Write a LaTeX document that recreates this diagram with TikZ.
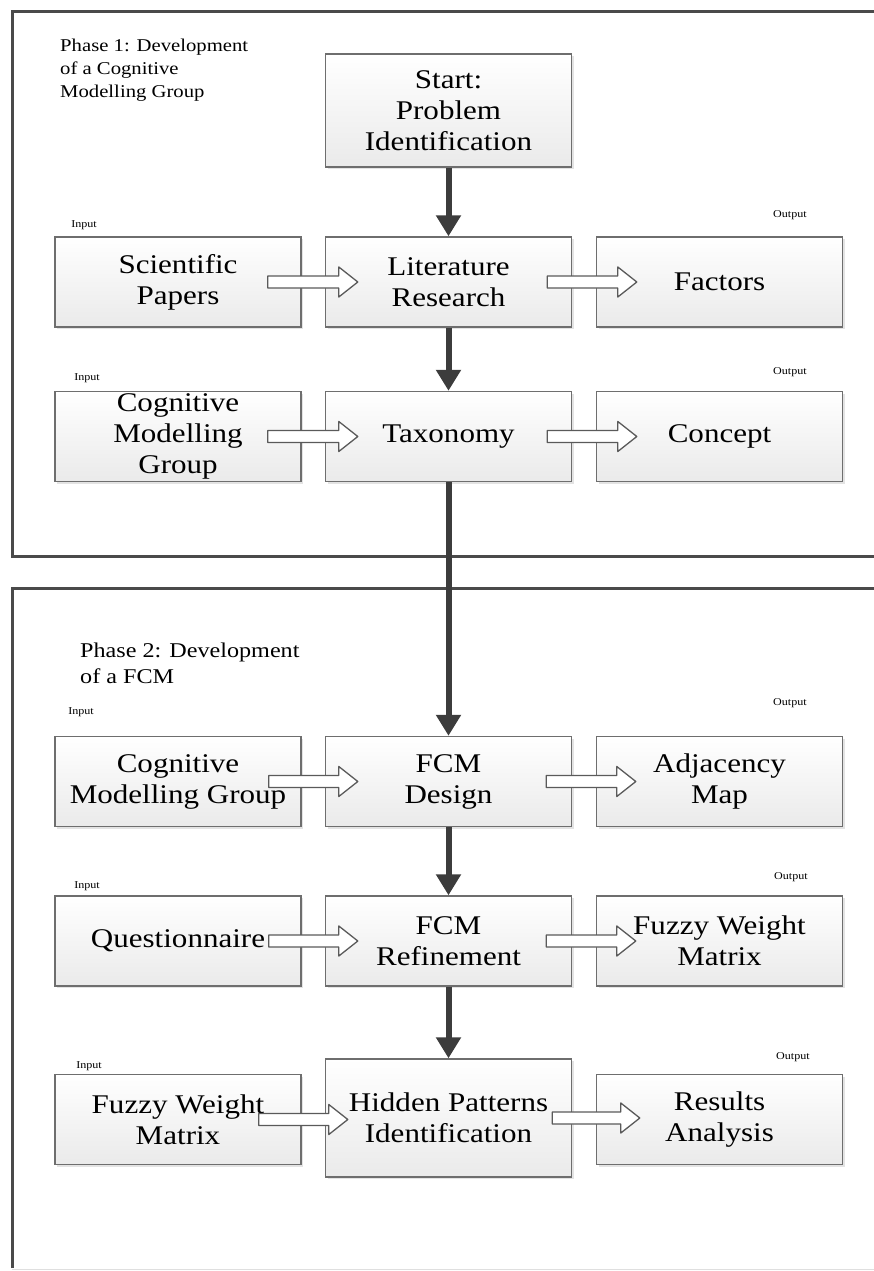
\documentclass[tikz,border=0pt]{standalone}
\usepackage{fontspec}
\setmainfont{Liberation Serif}[FakeStretch=1.15]
\usetikzlibrary{arrows.meta,calc,shadows}

\definecolor{framegray}{HTML}{4A4A4A}
\definecolor{boxline}{HTML}{6E6E6E}
\definecolor{boxbottom}{HTML}{EAEAEA}
\definecolor{flowdark}{HTML}{3C3C3C}
\definecolor{hollowline}{HTML}{5A5A5A}

\tikzset{
  frame/.style={draw=framegray, line width=3pt},
  stage/.style={draw=boxline, line width=1.4pt, top color=white, bottom color=boxbottom,
    minimum width=246pt, minimum height=90pt, inner sep=0pt, align=center,
    font=\fontsize{27}{31}\selectfont,
    drop shadow={opacity=0.22, shadow xshift=2pt, shadow yshift=-2pt}},
  phase/.style={anchor=north west, inner sep=0pt, align=left},
  tag/.style={inner sep=0pt, font=\fontsize{10.5}{12}\selectfont},
  flow/.style={draw=flowdark, line width=6pt, -{Triangle[width=24pt,length=21pt]}, shorten >=0pt},
  hollow/.style={draw=hollowline, fill=white, line width=1.3pt, line join=round}
}

% wide outlined arrow drawn from a start point to a tip point at the same height
\newcommand\hollowarrow[2]{%
  \draw[hollow] let \p1=(#1), \p2=(#2) in
    (\x1,\y1+6pt) -- (\x2-19pt,\y1+6pt) -- (\x2-19pt,\y1+15pt) -- (\x2,\y1)
    -- (\x2-19pt,\y1-15pt) -- (\x2-19pt,\y1-6pt) -- (\x1,\y1-6pt) -- cycle;}

\begin{document}
\begin{tikzpicture}[x=1pt, y=-1pt]
\useasboundingbox (0,0) rectangle (874,1271);

% phase frames
\draw[frame] (12,12) rectangle (900,556);
\draw[frame] (12,1268) -- (12,588) -- (900,588);
\draw[gray!25, line width=1pt] (12,1269) -- (874,1269);

% phase captions
\node[phase, font=\fontsize{18}{23}\selectfont] (ph1) at (60,39)
  {Phase 1: Development\\of a Cognitive\\Modelling Group};
\node[phase, font=\fontsize{21}{26}\selectfont] (ph2) at (80,643)
  {Phase 2: Development\\of a FCM};

% phase 1 stages
\node[stage, minimum height=113pt] (start) at (448.5,110.5) {Start:\\Problem\\Identification};
\node[stage] (sp)  at (178,282)   {Scientific\\Papers};
\node[stage] (lit) at (448.5,282) {Literature\\Research};
\node[stage] (fac) at (719.5,282) {Factors};
\node[stage] (cmg) at (178,436.5)   {Cognitive\\Modelling\\Group};
\node[stage] (tax) at (448.5,436.5) {Taxonomy};
\node[stage] (con) at (719.5,436.5) {Concept};

% phase 2 stages
\node[stage] (cmg2) at (178,781.5)   {Cognitive\\Modelling Group};
\node[stage] (des)  at (448.5,781.5) {FCM\\Design};
\node[stage] (adj)  at (719.5,781.5) {Adjacency\\Map};
\node[stage] (que)  at (178,941)   {Questionnaire};
\node[stage] (ref)  at (448.5,941) {FCM\\Refinement};
\node[stage] (fwm)  at (719.5,941) {Fuzzy Weight\\Matrix};
\node[stage] (fwm2) at (178,1119.5)   {Fuzzy Weight\\Matrix};
\node[stage, minimum height=118pt] (hid) at (448.5,1118) {Hidden Patterns\\Identification};
\node[stage] (res)  at (719.5,1119.5) {Results\\Analysis};

% input / output tags
\node[tag] (i1) at (84,225)  {Input};
\node[tag] (o1) at (790,215) {Output};
\node[tag] (i2) at (87,378)  {Input};
\node[tag] (o2) at (790,372) {Output};
\node[tag] (i3) at (81,712)  {Input};
\node[tag] (o3) at (790,703) {Output};
\node[tag] (i4) at (87,886)  {Input};
\node[tag] (o4) at (791,877) {Output};
\node[tag] (i5) at (89,1066) {Input};
\node[tag] (o5) at (793,1057) {Output};

% main flow
\draw[flow] (start.south) -- (lit.north);
\draw[flow] (lit.south) -- (tax.north);
\draw[flow] (tax.south) -- (des.north);
\draw[flow] (des.south) -- (ref.north);
\draw[flow] (ref.south) -- (hid.north);

% input and output arrows
\coordinate (a1s) at ($(sp.east)+(-34,0)$);  \coordinate (a1t) at ($(lit.west)+(33,0)$);
\coordinate (b1s) at ($(lit.east)+(-25,0)$); \coordinate (b1t) at ($(fac.west)+(41,0)$);
\coordinate (a2s) at ($(cmg.east)+(-34,0)$); \coordinate (a2t) at ($(tax.west)+(33,0)$);
\coordinate (b2s) at ($(tax.east)+(-25,0)$); \coordinate (b2t) at ($(con.west)+(41,0)$);
\coordinate (a3s) at ($(cmg2.east)+(-33,0)$); \coordinate (a3t) at ($(des.west)+(33,0)$);
\coordinate (b3s) at ($(des.east)+(-26,0)$);  \coordinate (b3t) at ($(adj.west)+(40,0)$);
\coordinate (a4s) at ($(que.east)+(-33,0)$);  \coordinate (a4t) at ($(ref.west)+(33,0)$);
\coordinate (b4s) at ($(ref.east)+(-26,0)$);  \coordinate (b4t) at ($(fwm.west)+(40,0)$);
\coordinate (a5s) at ($(fwm2.east)+(-43,0)$); \coordinate (a5t) at ($(hid.west)+(23,0)$);
\coordinate (b5s) at ($(hid.east)+(-20,0)$);  \coordinate (b5t) at ($(res.west)+(44,0)$);
\hollowarrow{a1s}{a1t}
\hollowarrow{b1s}{b1t}
\hollowarrow{a2s}{a2t}
\hollowarrow{b2s}{b2t}
\hollowarrow{a3s}{a3t}
\hollowarrow{b3s}{b3t}
\hollowarrow{a4s}{a4t}
\hollowarrow{b4s}{b4t}
\hollowarrow{a5s}{a5t}
\hollowarrow{b5s}{b5t}
\end{tikzpicture}
\end{document}
